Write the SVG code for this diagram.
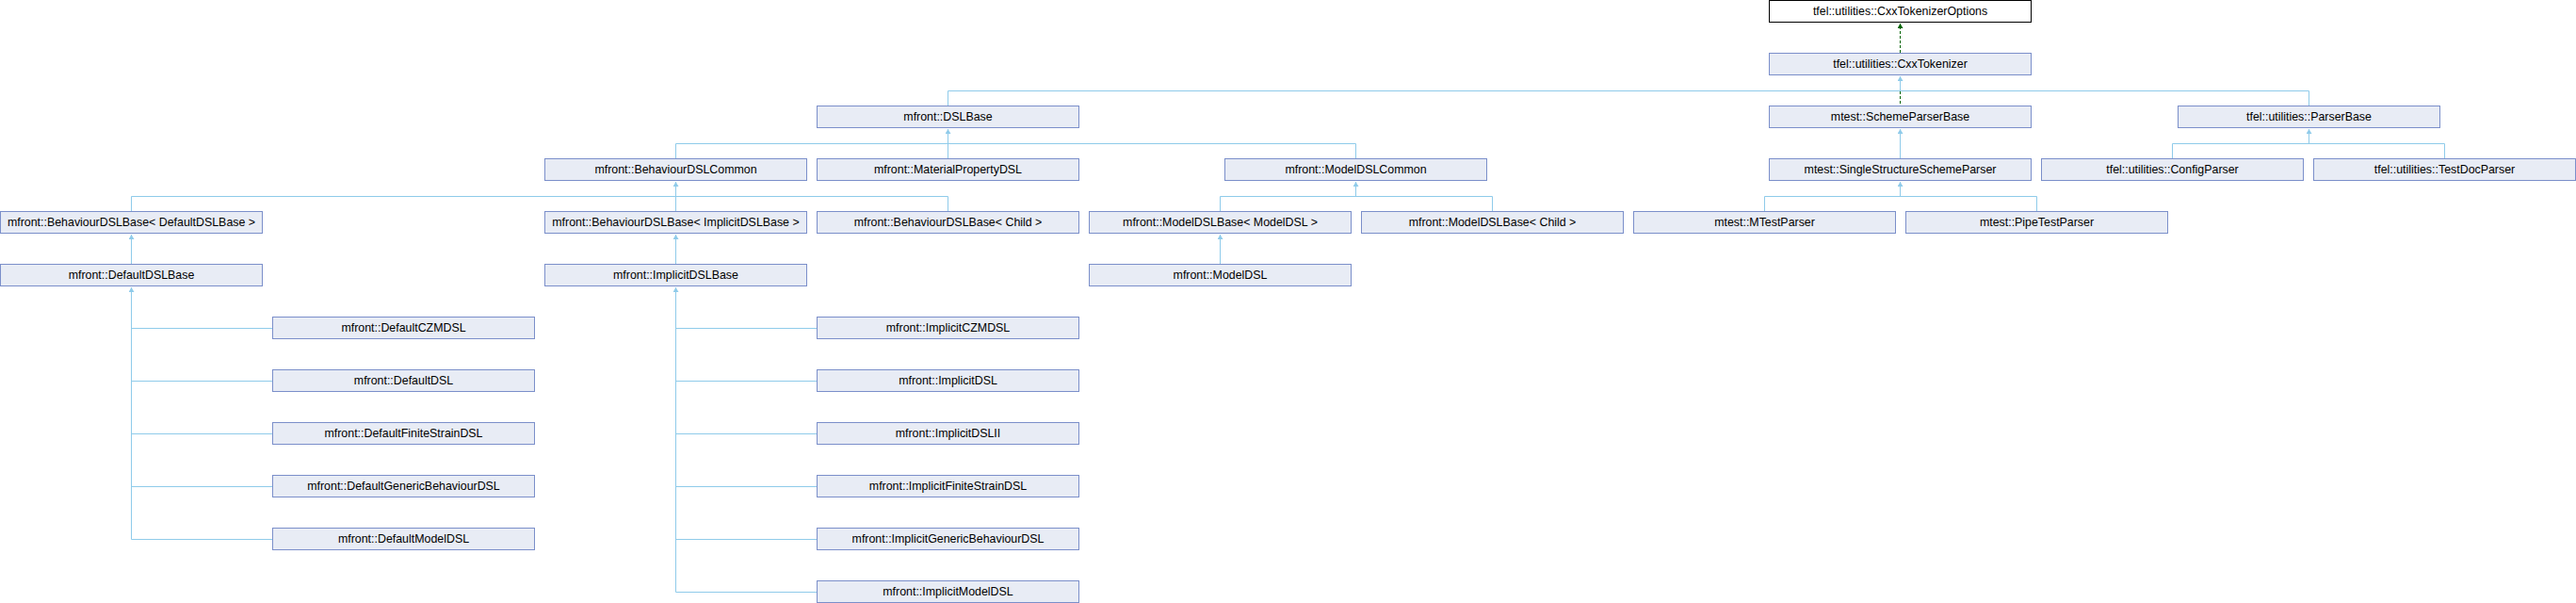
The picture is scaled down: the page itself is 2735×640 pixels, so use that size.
<svg xmlns="http://www.w3.org/2000/svg" width="2735" height="640" viewBox="0 0 2735 640">
<style>
.n rect{fill:#e8ecf5;stroke:#7b8fca;stroke-width:1}
.n.top rect{fill:#ffffff;stroke:#000000}
.n text{font-family:"Liberation Sans",Arial,sans-serif;font-size:12.4px;fill:#000;text-anchor:middle}
.c path{fill:none;stroke:#8fcbea;stroke-width:1}
.c path.g{stroke:#006400;stroke-dasharray:3,2}
.c path.m{marker-end:url(#ab)}
.c path.mg{marker-end:url(#ag)}
</style>
<defs>
<marker id="ab" markerUnits="userSpaceOnUse" markerWidth="5" markerHeight="6" viewBox="0 0 10 10" refX="10" refY="5" orient="auto" preserveAspectRatio="none"><path d="M0,0L10,5L0,10z" fill="#8fcbea" stroke="none"/></marker>
<marker id="ag" markerUnits="userSpaceOnUse" markerWidth="5" markerHeight="6" viewBox="0 0 10 10" refX="10" refY="5" orient="auto" preserveAspectRatio="none"><path d="M0,0L10,5L0,10z" fill="#006400" stroke="none"/></marker>
</defs>
<rect width="2735" height="640" fill="#ffffff"/>
<g id="connectors" class="c">
<path class="g mg" d="M2017.5,56 V25"/>
<path class="m" d="M2017.5,96.5 V81"/>
<path d="M1006.5,96.5 H2451.5 M1006.5,96.5 V112 M2451.5,96.5 V112"/>
<path class="g" d="M2017.5,97 V112"/>
<path class="m" d="M1006.5,152.5 V137"/>
<path d="M717.5,152.5 H1439.5 M717.5,152.5 V168 M1006.5,152.5 V168 M1439.5,152.5 V168"/>
<path class="m" d="M2017.5,168 V137"/>
<path class="m" d="M2451.5,152.5 V137"/>
<path d="M2306.5,152.5 H2595.5 M2306.5,152.5 V168 M2595.5,152.5 V168"/>
<path class="m" d="M717.5,208.5 V193"/>
<path d="M139.5,208.5 H1006.5 M139.5,208.5 V224 M717.5,208.5 V224 M1006.5,208.5 V224"/>
<path class="m" d="M1439.5,208.5 V193"/>
<path d="M1295.5,208.5 H1584.5 M1295.5,208.5 V224 M1584.5,208.5 V224"/>
<path class="m" d="M2017.5,208.5 V193"/>
<path d="M1873.5,208.5 H2162.5 M1873.5,208.5 V224 M2162.5,208.5 V224"/>
<path class="m" d="M139.5,280 V249"/>
<path class="m" d="M717.5,280 V249"/>
<path class="m" d="M1295.5,280 V249"/>
<path class="m" d="M139.5,572.5 V305"/>
<path d="M139.5,348.5 H289 M139.5,404.5 H289 M139.5,460.5 H289 M139.5,516.5 H289 M139.5,572.5 H289"/>
<path class="m" d="M717.5,628.5 V305"/>
<path d="M717.5,348.5 H867 M717.5,404.5 H867 M717.5,460.5 H867 M717.5,516.5 H867 M717.5,572.5 H867 M717.5,628.5 H867"/>
</g>
<g id="n0" class="n top"><rect x="1878.5" y="0.5" width="278" height="23"/><text x="2017.5" y="16">tfel::utilities::CxxTokenizerOptions</text></g>
<g id="n1" class="n"><rect x="1878.5" y="56.5" width="278" height="23"/><text x="2017.5" y="72">tfel::utilities::CxxTokenizer</text></g>
<g id="n2" class="n"><rect x="867.5" y="112.5" width="278" height="23"/><text x="1006.5" y="128">mfront::DSLBase</text></g>
<g id="n3" class="n"><rect x="1878.5" y="112.5" width="278" height="23"/><text x="2017.5" y="128">mtest::SchemeParserBase</text></g>
<g id="n4" class="n"><rect x="2312.5" y="112.5" width="278" height="23"/><text x="2451.5" y="128">tfel::utilities::ParserBase</text></g>
<g id="n5" class="n"><rect x="578.5" y="168.5" width="278" height="23"/><text x="717.5" y="184">mfront::BehaviourDSLCommon</text></g>
<g id="n6" class="n"><rect x="867.5" y="168.5" width="278" height="23"/><text x="1006.5" y="184">mfront::MaterialPropertyDSL</text></g>
<g id="n7" class="n"><rect x="1300.5" y="168.5" width="278" height="23"/><text x="1439.5" y="184">mfront::ModelDSLCommon</text></g>
<g id="n8" class="n"><rect x="1878.5" y="168.5" width="278" height="23"/><text x="2017.5" y="184">mtest::SingleStructureSchemeParser</text></g>
<g id="n9" class="n"><rect x="2167.5" y="168.5" width="278" height="23"/><text x="2306.5" y="184">tfel::utilities::ConfigParser</text></g>
<g id="n10" class="n"><rect x="2456.5" y="168.5" width="278" height="23"/><text x="2595.5" y="184">tfel::utilities::TestDocParser</text></g>
<g id="n11" class="n"><rect x="0.5" y="224.5" width="278" height="23"/><text x="139.5" y="240">mfront::BehaviourDSLBase&lt; DefaultDSLBase &gt;</text></g>
<g id="n12" class="n"><rect x="578.5" y="224.5" width="278" height="23"/><text x="717.5" y="240">mfront::BehaviourDSLBase&lt; ImplicitDSLBase &gt;</text></g>
<g id="n13" class="n"><rect x="867.5" y="224.5" width="278" height="23"/><text x="1006.5" y="240">mfront::BehaviourDSLBase&lt; Child &gt;</text></g>
<g id="n14" class="n"><rect x="1156.5" y="224.5" width="278" height="23"/><text x="1295.5" y="240">mfront::ModelDSLBase&lt; ModelDSL &gt;</text></g>
<g id="n15" class="n"><rect x="1445.5" y="224.5" width="278" height="23"/><text x="1584.5" y="240">mfront::ModelDSLBase&lt; Child &gt;</text></g>
<g id="n16" class="n"><rect x="1734.5" y="224.5" width="278" height="23"/><text x="1873.5" y="240">mtest::MTestParser</text></g>
<g id="n17" class="n"><rect x="2023.5" y="224.5" width="278" height="23"/><text x="2162.5" y="240">mtest::PipeTestParser</text></g>
<g id="n18" class="n"><rect x="0.5" y="280.5" width="278" height="23"/><text x="139.5" y="296">mfront::DefaultDSLBase</text></g>
<g id="n19" class="n"><rect x="578.5" y="280.5" width="278" height="23"/><text x="717.5" y="296">mfront::ImplicitDSLBase</text></g>
<g id="n20" class="n"><rect x="1156.5" y="280.5" width="278" height="23"/><text x="1295.5" y="296">mfront::ModelDSL</text></g>
<g id="n21" class="n"><rect x="289.5" y="336.5" width="278" height="23"/><text x="428.5" y="352">mfront::DefaultCZMDSL</text></g>
<g id="n22" class="n"><rect x="289.5" y="392.5" width="278" height="23"/><text x="428.5" y="408">mfront::DefaultDSL</text></g>
<g id="n23" class="n"><rect x="289.5" y="448.5" width="278" height="23"/><text x="428.5" y="464">mfront::DefaultFiniteStrainDSL</text></g>
<g id="n24" class="n"><rect x="289.5" y="504.5" width="278" height="23"/><text x="428.5" y="520">mfront::DefaultGenericBehaviourDSL</text></g>
<g id="n25" class="n"><rect x="289.5" y="560.5" width="278" height="23"/><text x="428.5" y="576">mfront::DefaultModelDSL</text></g>
<g id="n26" class="n"><rect x="867.5" y="336.5" width="278" height="23"/><text x="1006.5" y="352">mfront::ImplicitCZMDSL</text></g>
<g id="n27" class="n"><rect x="867.5" y="392.5" width="278" height="23"/><text x="1006.5" y="408">mfront::ImplicitDSL</text></g>
<g id="n28" class="n"><rect x="867.5" y="448.5" width="278" height="23"/><text x="1006.5" y="464">mfront::ImplicitDSLII</text></g>
<g id="n29" class="n"><rect x="867.5" y="504.5" width="278" height="23"/><text x="1006.5" y="520">mfront::ImplicitFiniteStrainDSL</text></g>
<g id="n30" class="n"><rect x="867.5" y="560.5" width="278" height="23"/><text x="1006.5" y="576">mfront::ImplicitGenericBehaviourDSL</text></g>
<g id="n31" class="n"><rect x="867.5" y="616.5" width="278" height="23"/><text x="1006.5" y="632">mfront::ImplicitModelDSL</text></g>
</svg>
